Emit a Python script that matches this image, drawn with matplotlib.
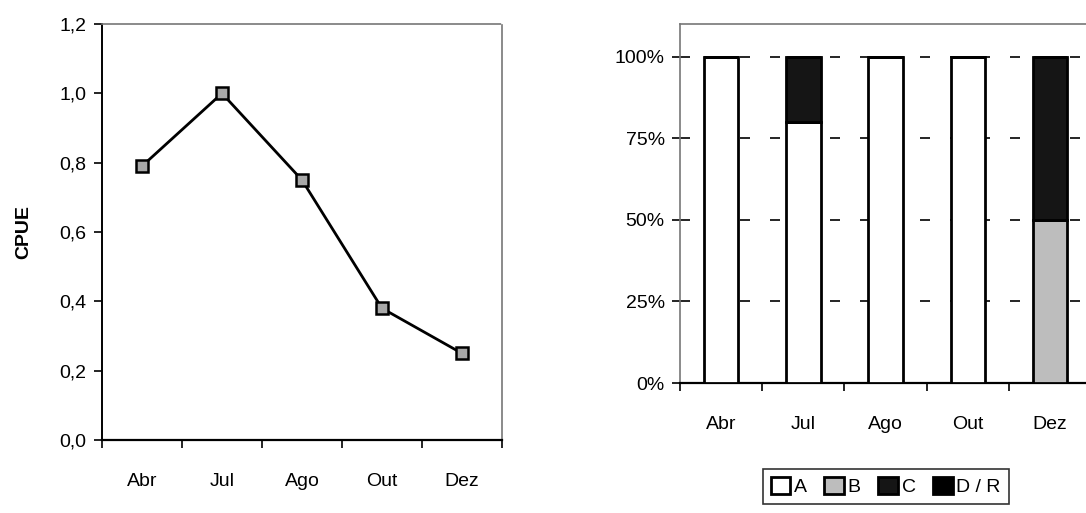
import matplotlib
matplotlib.use("Agg")
import matplotlib.pyplot as plt
import numpy as np

plt.rcParams["font.family"] = ["Liberation Sans", "DejaVu Sans"]

# ── DATA ─────────────────────────────────────────────────────────────────────
months = ["Abr", "Jul", "Ago", "Out", "Dez"]
cpue = [0.79, 1.0, 0.75, 0.38, 0.25]

classes = ["A", "B", "C", "D / R"]
pct_A = [100, 80, 100, 100, 0]
pct_B = [0, 0, 0, 0, 50]
pct_C = [0, 20, 0, 0, 50]
pct_DR = [0, 0, 0, 0, 0]
class_colors = ["white", "#bdbdbd", "#151515", "black"]

# ── FIGURE ───────────────────────────────────────────────────────────────────
fig = plt.figure(figsize=(10.86, 5.13), dpi=100)
x = np.arange(len(months))

# left: CPUE line
ax1 = fig.add_axes([0.0939, 0.1423, 0.3683, 0.8109])
ax1.plot(x, cpue, color="black", lw=2.0, marker="s", ms=9,
         mfc="#a8a8a8", mec="black", mew=1.8, zorder=3)
ax1.set_xlim(-0.5, 4.5)
ax1.set_ylim(0, 1.2)
ax1.set_yticks(np.arange(0, 1.21, 0.2))
ax1.set_yticklabels([f"{v:.1f}".replace(".", ",") for v in np.arange(0, 1.21, 0.2)])
ax1.set_ylabel("CPUE", fontsize=14, fontweight="bold", labelpad=20)

# right: stacked percentage bars
ax2 = fig.add_axes([0.6262, 0.2534, 0.3785, 0.6998])
w = 0.42
bottom = np.zeros(len(months))
for name, vals, col in zip(classes, [pct_A, pct_B, pct_C, pct_DR], class_colors):
    vals = np.array(vals, dtype=float)
    ax2.bar(x, vals, w, bottom=bottom, color=col, edgecolor="black",
            lw=2.0, label=name, zorder=3)
    bottom += vals
ax2.set_xlim(-0.5, 4.5)
ax2.set_ylim(0, 110)
ax2.set_yticks([0, 25, 50, 75, 100])
ax2.set_yticklabels(["0%", "25%", "50%", "75%", "100%"])
ax2.yaxis.grid(True, color="black", ls=(0, (6, 12)), lw=1.2)
ax2.set_axisbelow(True)

for ax in (ax1, ax2):
    ax.set_xticks(x)
    ax.set_xticklabels(months)
    ax.set_xticks(np.arange(-0.5, 5.0, 1.0), minor=True)
    ax.tick_params(axis="x", which="major", length=0, pad=24, labelsize=14)
    ax.tick_params(axis="x", which="minor", length=6, width=1.2, direction="out")
    ax.tick_params(axis="y", length=6, width=1.2, labelsize=14, pad=5)
    ax.spines["bottom"].set_linewidth(1.6)
    for s in ("top", "right"):
        ax.spines[s].set_color("#777777")
        ax.spines[s].set_linestyle((0, (1, 1)))
        ax.spines[s].set_linewidth(1.2)

ax1.spines["left"].set_linewidth(1.4)
ax2.spines["left"].set_color("#777777")
ax2.spines["left"].set_linewidth(1.2)

handles, labels = ax2.get_legend_handles_labels()
leg = fig.legend(handles, labels, loc="upper left", bbox_to_anchor=(0.6935, 0.105),
                 ncol=4, frameon=True, fancybox=False, edgecolor="black",
                 handlelength=1.0, handleheight=1.0, handletextpad=0.2,
                 columnspacing=0.9, fontsize=14, borderpad=0.4)
leg.get_frame().set_linewidth(1.2)

fig.savefig("out.png", dpi=100)
